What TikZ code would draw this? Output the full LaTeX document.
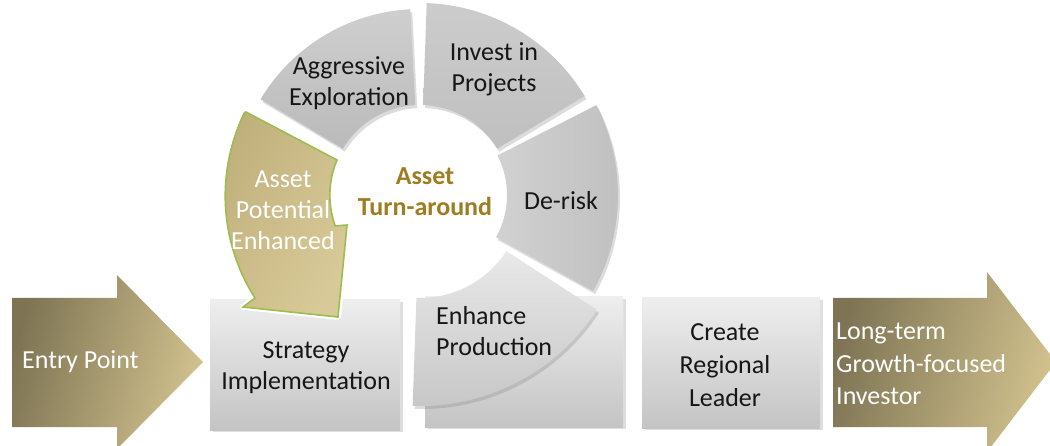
\documentclass[tikz,border=0pt]{standalone}
\usepackage{fontspec}
\setmainfont{Carlito}
\usetikzlibrary{shadows}
\definecolor{goldD}{RGB}{126,116,84}
\definecolor{goldL}{RGB}{210,194,142}
\definecolor{goldAr}{RGB}{216,202,152}
\definecolor{goldArD}{RGB}{192,176,124}
\definecolor{goldText}{RGB}{158,124,32}
\definecolor{oliveLine}{RGB}{155,190,80}
\definecolor{boxT}{RGB}{238,238,238}
\definecolor{boxB}{RGB}{196,196,196}
\definecolor{txtc}{RGB}{22,22,22}
\newcommand\goldarrowpath{(246,112) -- (337,160) arc[start angle=-157,end angle=-200,radius=90] -- (347,225) -- (338,317) -- (243,307) -- (255,298) arc[start angle=147.5,end angle=206,radius=190] -- cycle}
\begin{document}
\begin{tikzpicture}[x=1pt,y=-1pt,
  txt/.style={font=\fontsize{26}{31}\selectfont, inner sep=0pt, align=center, text=txtc},
  wtxt/.style={txt, text=white},
  graybox/.style={top color=boxT, bottom color=boxB, drop shadow={opacity=0.25, shadow xshift=3pt, shadow yshift=-2pt}},
  seg/.style={drop shadow={opacity=0.28, shadow xshift=2pt, shadow yshift=-3pt}},
  goldshape/.style={left color=goldD, right color=goldL, shading angle=75}
]
\useasboundingbox (0,0) rectangle (1050,446);
\coordinate (C) at (420,195);

% side arrows
\path[goldshape] (12,298) -- (117,298) -- (117,275) -- (203,362) -- (117,449) -- (117,427) -- (12,427) -- cycle;
\path[goldshape] (833,298) -- (987,298) -- (987,272) -- (1056,362) -- (987,452) -- (987,427) -- (833,427) -- cycle;

% gray boxes
\path[graybox] (210,300) rectangle (400,430);
\path[graybox] (425,297) rectangle (623,427);
\path[graybox] (642,298) rectangle (820,428);

% ring segments
\path[seg, top color=black!19, bottom color=black!27]
  ([shift={(C)}]-149:90) arc[start angle=-149,end angle=-93,radius=90]
  -- ([shift={(C)}]-93:186) arc[start angle=-93,end angle=-149,radius=186] -- cycle;
\path[seg, top color=black!20, bottom color=black!25]
  ([shift={(C)}]-88:90) arc[start angle=-88,end angle=-31,radius=90]
  -- ([shift={(C)}]-31:192) arc[start angle=-31,end angle=-88,radius=192] -- cycle;
\path[seg, left color=black!18, right color=black!25]
  ([shift={(C)}]-27:87) arc[start angle=-27,end angle=29,radius=87]
  -- ([shift={(C)}]29:198) arc[start angle=29,end angle=-27,radius=198] -- cycle;
\path[seg, top color=black!9, bottom color=black!22]
  ([shift={(C)}]33:103) arc[start angle=33,end angle=92,radius=103]
  -- ([shift={(C)}]92:211) arc[start angle=92,end angle=33,radius=211] -- cycle;

% gold curved arrow
\path[draw=white, fill=white, line width=6pt, line join=round,
  drop shadow={opacity=0.3, shadow xshift=2pt, shadow yshift=-3pt}] \goldarrowpath;
\path[left color=goldArD, right color=goldAr, shading angle=60, draw=oliveLine, line width=1.6pt, line join=miter] \goldarrowpath;

% texts
\node[txt] (aggr) at (349,83) {Aggressive\\Exploration};
\node[txt] (invest) at (494,69) {Invest in\\Projects};
\node[txt] (derisk) at (561,201) {De-risk};
\node[txt, anchor=west, align=left] (enh) at (436,331) {Enhance\\Production};
\node[txt, text=goldText, font=\fontsize{26}{31}\selectfont\bfseries] (turn) at (425,192) {Asset\\Turn-around};
\node[wtxt] (ape) at (283,210) {Asset\\Potential\\Enhanced};
\node[wtxt, anchor=west] (entry) at (22,362) {Entry Point};
\node[txt] (strat) at (306,368) {Strategy\\Implementation};
\node[txt, font=\fontsize{26}{33}\selectfont] (create) at (725,365) {Create\\Regional\\Leader};
\node[wtxt, anchor=west, align=left, font=\fontsize{26}{32.5}\selectfont] (lt) at (836,364) {Long-term\\Growth-focused\\Investor};
\end{tikzpicture}
\end{document}
